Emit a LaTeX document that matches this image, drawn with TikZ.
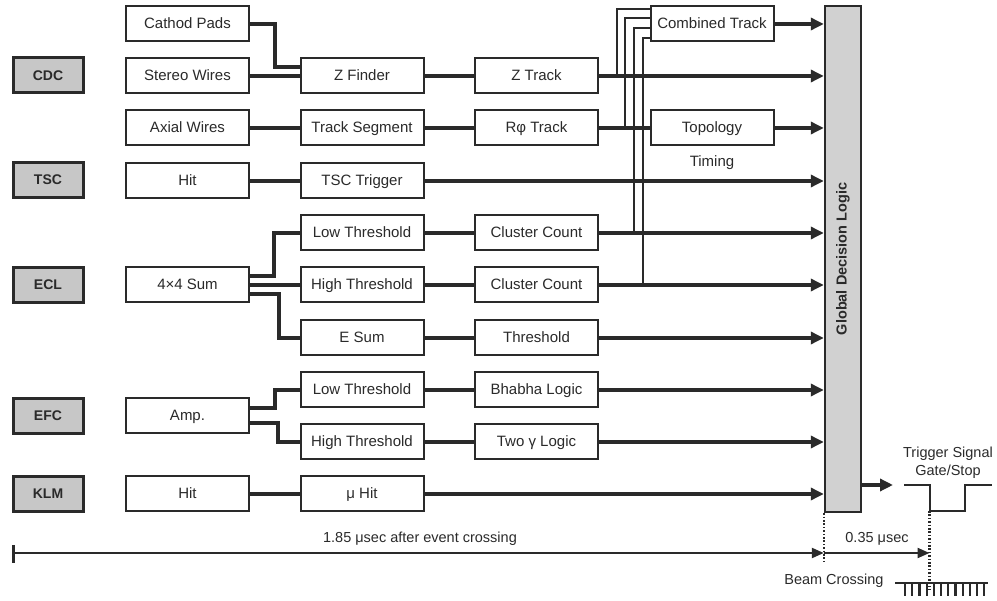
\documentclass[tikz,border=0pt]{standalone}
\usepackage{fontspec}
\setmainfont{Liberation Sans}
\usetikzlibrary{arrows.meta,calc}
\definecolor{ink}{HTML}{2A2A2A}
\begin{document}
\begin{tikzpicture}[x=1pt,y=-1pt,
  every node/.style={font=\fontsize{15}{18}\selectfont, text=ink},
  box/.style={draw=ink, line width=2pt, fill=white, minimum width=123pt, minimum height=35pt, inner sep=0pt, text height=11pt, text depth=1pt},
  det/.style={draw=ink, line width=3pt, fill=black!22, minimum width=70pt, minimum height=35pt, inner sep=0pt, text height=10pt, text depth=0pt, font=\fontsize{14}{16}\selectfont\bfseries},
  conn/.style={draw=ink, line width=3.4pt},
  arr/.style={conn, -{Triangle[length=13pt,width=12pt]}},
  thin/.style={draw=ink, line width=2pt},
  dots/.style={draw=ink, line width=2.2pt, dash pattern=on 1.6pt off 1.8pt}
]
\useasboundingbox (0,0) rectangle (997,601);

% detectors
\node[det] (cdc) at (48,75.5) {CDC};
\node[det] (tsc) at (48,180) {TSC};
\node[det] (ecl) at (48,285) {ECL};
\node[det] (efc) at (48,416) {EFC};
\node[det] (klm) at (48,494) {KLM};

% column 1
\node[box] (cp) at (187.5,24) {Cathod Pads};
\node[box] (sw) at (187.5,76) {Stereo Wires};
\node[box] (aw) at (187.5,128) {Axial Wires};
\node[box] (th1) at (187.5,181) {Hit};
\node[box] (sum) at (187.5,285) {4×4 Sum};
\node[box] (amp) at (187.5,416) {Amp.};
\node[box] (kh) at (187.5,494) {Hit};

% column 2
\node[box] (zf) at (362,76) {Z Finder};
\node[box] (ts) at (362,128) {Track Segment};
\node[box] (tt) at (362,181) {TSC Trigger};
\node[box] (lt) at (362,233) {Low Threshold};
\node[box] (ht) at (362,285) {High Threshold};
\node[box] (es) at (362,338) {E Sum};
\node[box] (elt) at (362,390) {Low Threshold};
\node[box] (eht) at (362,442) {High Threshold};
\node[box] (mh) at (362,494) {μ Hit};

% column 3
\node[box] (zt) at (536.5,76) {Z Track};
\node[box] (rp) at (536.5,128) {Rφ Track};
\node[box] (cc1) at (536.5,233) {Cluster Count};
\node[box] (cc2) at (536.5,285) {Cluster Count};
\node[box] (thr) at (536.5,338) {Threshold};
\node[box] (bb) at (536.5,390) {Bhabha Logic};
\node[box] (tg) at (536.5,442) {Two γ Logic};

% column 4
\node[box] (ct) at (712,24) {Combined Track};
\node[box] (topo) at (712,128) {Topology};
\node (timing) at (712,163) {Timing};

% global decision logic
\node[draw=ink, line width=2.4pt, fill=black!18, rotate=90, minimum width=506pt, minimum height=36pt, inner sep=0pt,
      font=\fontsize{14.5}{16}\selectfont\bfseries] (gdl) at (843,259) {Global Decision Logic};

% column 1 -> column 2
\draw[conn] (cp.east) -- ++(25,0) |- ([yshift=9pt]zf.west);
\draw[conn] (sw.east) -- (zf.west);
\draw[conn] (aw.east) -- (ts.west);
\draw[conn] (th1.east) -- (tt.west);
\draw[conn] ([yshift=9pt]sum.east) -- ++(24,0) |- (lt.west);
\draw[conn] (sum.east) -- (ht.west);
\draw[conn] ([yshift=-9pt]sum.east) -- ++(29,0) |- (es.west);
\draw[conn] ([yshift=8pt]amp.east) -- ++(25,0) |- (elt.west);
\draw[conn] ([yshift=-7pt]amp.east) -- ++(28,0) |- (eht.west);
\draw[conn] (kh.east) -- (mh.west);

% column 2 -> column 3
\draw[conn] (zf.east) -- (zt.west);
\draw[conn] (ts.east) -- (rp.west);
\draw[conn] (lt.east) -- (cc1.west);
\draw[conn] (ht.east) -- (cc2.west);
\draw[conn] (es.east) -- (thr.west);
\draw[conn] (elt.east) -- (bb.west);
\draw[conn] (eht.east) -- (tg.west);
\draw[conn] (rp.east) -- (topo.west);

% combined track inputs
\draw[thin] ([yshift=15pt]ct.west) -| ($(zt.east)+(18,0)$);
\draw[thin] ([yshift=6pt]ct.west) -| ($(rp.east)+(26,0)$);
\draw[thin] ([yshift=-4pt]ct.west) -| ($(cc1.east)+(35,0)$);
\draw[thin] ([yshift=-14pt]ct.west) -| ($(cc2.east)+(44,0)$);

% into GDL
\foreach \n in {ct,zt,topo,tt,cc1,cc2,thr,bb,tg,mh}
  \draw[arr] (\n.east) -- (\n.east -| gdl.north);

% output signal
\coordinate (out) at (893,485);
\draw[arr] (out -| gdl.south) -- (out);
\coordinate (p0) at (904,485);
\coordinate (pf) at (929.5,485);
\coordinate (pr) at (965,485);
\coordinate (p1) at (992,485);
\draw[thin] (p0) -- (pf) -- ++(0,26) -| (pr) -- (p1);
\node[align=center, font=\fontsize{14.5}{18}\selectfont] (trig) at (948,463) {Trigger Signal\\Gate/Stop};

% timeline
\coordinate (t0) at (13,553);
\draw[ink, line width=3pt] (13,545) -- (13,563);
\coordinate (tg1) at (t0 -| gdl.north west);
\coordinate (tp) at (pf |- t0);
\draw[arr, line width=2.2pt, -{Triangle[length=12pt,width=10pt]}] (t0) -- (tg1);
\draw[arr, line width=2.2pt, -{Triangle[length=12pt,width=10pt]}] (tg1) -- (tp);
\draw[dots] (gdl.north west) -- ($(tg1)+(0,9)$);
\draw[dots] ($(pf)+(0,26)$) -- (929.5,590);
\node[font=\fontsize{14.5}{16}\selectfont] (lab1) at (420,539) {1.85 μsec after event crossing};
\node[font=\fontsize{14.5}{16}\selectfont] (lab2) at (877,539) {0.35 μsec};

% beam crossing
\coordinate (c0) at (895,583);
\coordinate (c1) at (988,583);
\draw[thin] (c0) -- (c1);
\foreach \i in {0,...,11}
  \draw[ink, line width=2.2pt] (905+7.2*\i,583) -- ++(0,13);
\node[anchor=east, font=\fontsize{14.5}{16}\selectfont] (bc) at (887,581) {Beam Crossing};
\end{tikzpicture}
\end{document}
